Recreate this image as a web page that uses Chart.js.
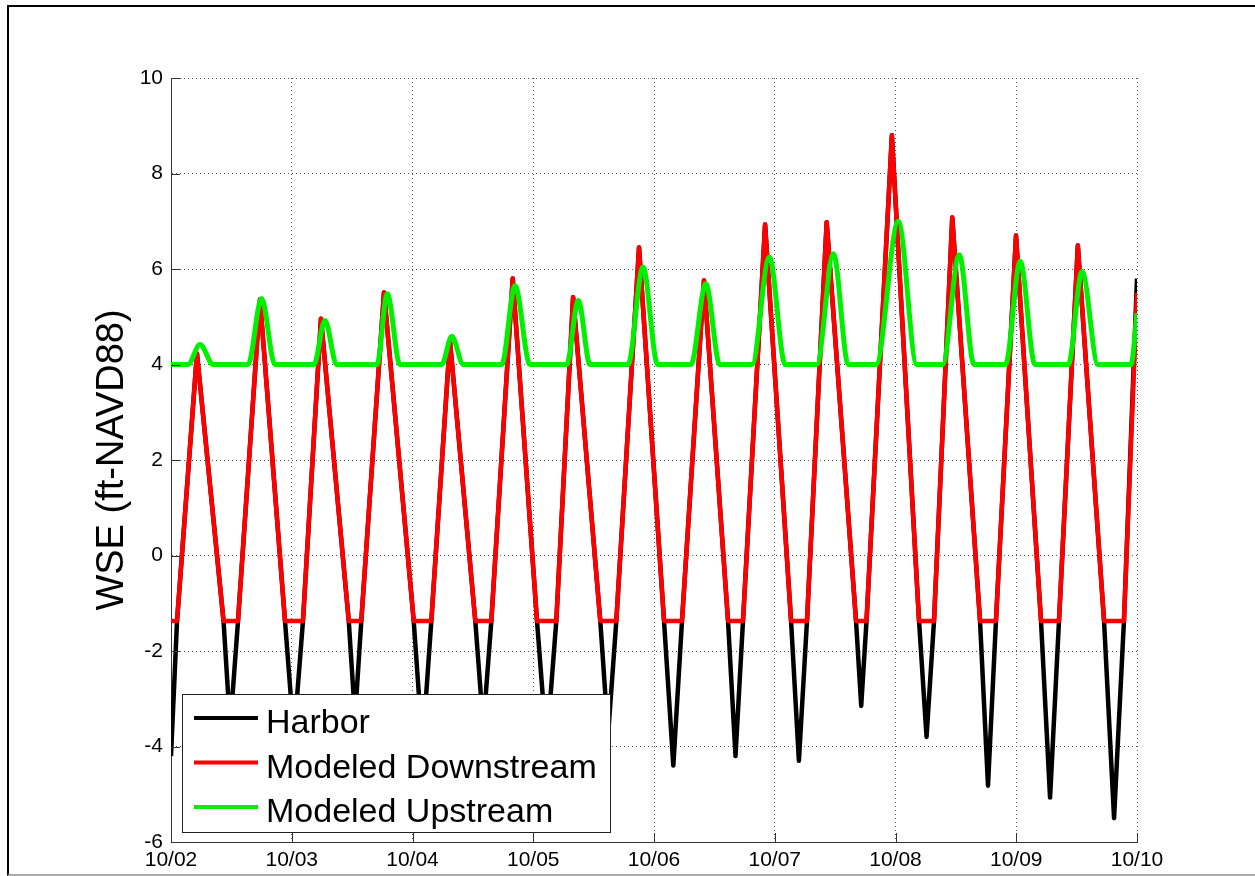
<!DOCTYPE html>
<html>
<head>
<meta charset="utf-8">
<title>WSE (ft-NAVD88)</title>
<script src="https://cdn.jsdelivr.net/npm/chart.js@4.4.1/dist/chart.umd.min.js"></script>
<style>
  html, body { margin: 0; padding: 0; background: #fff; overflow: hidden; }
  #frame {
    position: absolute; left: 7px; top: 5px; width: 1260px; height: 867px;
    border-left: 2px solid #000; border-top: 2px solid #000; border-bottom: 2px solid #aaa;
  }
  #wrap { position: absolute; left: 0; top: 0; width: 1255px; height: 876px; }
</style>
</head>
<body>
<div id="frame"></div>
<div id="wrap"><canvas id="myChart"></canvas></div>
<script>
/* x values are days after 10/02 00:00 */
var xTickLabels = ['10/02', '10/03', '10/04', '10/05', '10/06', '10/07', '10/08', '10/09', '10/10'];

var harborDay = [0, 0.05, 0.215, 0.435, 0.49, 0.555, 0.737, 0.944, 1.018, 1.093,
  1.242, 1.472, 1.524, 1.576, 1.764, 2.01, 2.083, 2.156, 2.31, 2.52,
  2.586, 2.653, 2.83, 3.031, 3.111, 3.191, 3.33, 3.555, 3.62, 3.688,
  3.876, 4.083, 4.16, 4.232, 4.414, 4.613, 4.675, 4.737, 4.92, 5.135,
  5.2, 5.267, 5.43, 5.673, 5.716, 5.76, 5.97, 6.195, 6.257, 6.319,
  6.47, 6.7, 6.766, 6.832, 6.998, 7.205, 7.28, 7.354, 7.51, 7.727,
  7.81, 7.892, 8.0];
var harborWse = [-4.2, -1.37, 4.23, -1.37, -3.6, -1.37, 5.36, -1.37, -3.8, -1.37,
  4.96, -1.37, -3.4, -1.37, 5.51, -1.37, -4.0, -1.37, 4.5, -1.37,
  -3.6, -1.37, 5.8, -1.37, -4.0, -1.37, 5.41, -1.37, -3.75, -1.37,
  6.45, -1.37, -4.4, -1.37, 5.76, -1.37, -4.2, -1.37, 6.93, -1.37,
  -4.3, -1.37, 6.98, -1.37, -3.15, -1.37, 8.8, -1.37, -3.8, -1.37,
  7.08, -1.37, -4.82, -1.37, 6.7, -1.37, -5.07, -1.37, 6.49, -1.37,
  -5.5, -1.37, 5.8];

var downDay = [0, 0.05, 0.215, 0.435, 0.555, 0.737, 0.944, 1.093, 1.242, 1.472,
  1.576, 1.764, 2.01, 2.156, 2.31, 2.52, 2.653, 2.83, 3.031, 3.191,
  3.33, 3.555, 3.688, 3.876, 4.083, 4.232, 4.414, 4.613, 4.737, 4.92,
  5.135, 5.267, 5.43, 5.673, 5.76, 5.97, 6.195, 6.319, 6.47, 6.7,
  6.832, 6.998, 7.205, 7.354, 7.51, 7.727, 7.892, 8.0];
var downWse = [-1.37, -1.37, 4.23, -1.37, -1.37, 5.36, -1.37, -1.37, 4.96, -1.37,
  -1.37, 5.51, -1.37, -1.37, 4.5, -1.37, -1.37, 5.8, -1.37, -1.37,
  5.41, -1.37, -1.37, 6.45, -1.37, -1.37, 5.76, -1.37, -1.37, 6.93,
  -1.37, -1.37, 6.98, -1.37, -1.37, 8.8, -1.37, -1.37, 7.08, -1.37,
  -1.37, 6.7, -1.37, -1.37, 6.49, -1.37, -1.37, 5.5];

var upDay = [0, 0.141, 0.24, 0.35, 0.638, 0.75, 0.861, 1.184, 1.275, 1.372,
  1.706, 1.791, 1.896, 2.242, 2.325, 2.421, 2.739, 2.849, 2.973, 3.277,
  3.373, 3.47, 3.785, 3.909, 4.03, 4.306, 4.429, 4.545, 4.812, 4.955,
  5.087, 5.348, 5.486, 5.609, 5.839, 6.023, 6.176, 6.39, 6.528, 6.65,
  6.911, 7.033, 7.155, 7.431, 7.545, 7.677, 7.95, 8.0];
var upWse = [4.0, 4.0, 4.42, 4.0, 4.0, 5.38, 4.0, 4.0, 4.92, 4.0,
  4.0, 5.48, 4.0, 4.0, 4.59, 4.0, 4.0, 5.65, 4.0, 4.0,
  5.34, 4.0, 4.0, 6.04, 4.0, 4.0, 5.69, 4.0, 4.0, 6.25,
  4.0, 4.0, 6.32, 4.0, 4.0, 7.0, 4.0, 4.0, 6.3, 4.0,
  4.0, 6.16, 4.0, 4.0, 5.95, 4.0, 4.0, 5.07];

var FONT = "'Liberation Sans', Arial, Helvetica, sans-serif";

function toPoints(xs, ys) {
  return xs.map(function (x, i) { return { x: x, y: ys[i] }; });
}

/* MATLAB style: inward ticks on left/bottom axes and a boxed legend inside the axes */
var matlabBits = {
  id: 'matlabBits',
  afterDraw: function (chart) {
    var ctx = chart.ctx;
    var area = chart.chartArea;
    var xs = chart.scales.x, ys = chart.scales.y;

    // legend
    ctx.save();
    ctx.font = '34px ' + FONT;
    var sets = chart.data.datasets.slice().sort(function (a, b) { return b.order - a.order; });
    var maxW = 0;
    sets.forEach(function (ds) { maxW = Math.max(maxW, ctx.measureText(ds.label).width); });
    var boxW = Math.round(84 + maxW + 13), boxH = 138;
    var bx = area.left + 11, by = area.bottom - 10 - boxH;
    ctx.fillStyle = '#fff';
    ctx.fillRect(bx, by, boxW, boxH);
    ctx.strokeStyle = '#222';
    ctx.lineWidth = 1;
    ctx.strokeRect(bx + 0.5, by + 0.5, boxW, boxH);
    sets.forEach(function (ds, i) {
      var ry = by + 24 + i * 44.5;
      ctx.strokeStyle = ds.borderColor;
      ctx.lineWidth = 4;
      ctx.beginPath();
      ctx.moveTo(bx + 12, ry);
      ctx.lineTo(bx + 76, ry);
      ctx.stroke();
      ctx.fillStyle = '#000';
      ctx.textBaseline = 'alphabetic';
      ctx.textAlign = 'left';
      ctx.fillText(ds.label, bx + 84, ry + 15);
    });
    ctx.restore();

    // inward tick marks
    ctx.save();
    ctx.strokeStyle = '#333';
    ctx.lineWidth = 1;
    ctx.beginPath();
    ys.ticks.forEach(function (t) {
      var py = Math.round(ys.getPixelForValue(t.value)) + 0.5;
      ctx.moveTo(area.left, py);
      ctx.lineTo(area.left + 9, py);
    });
    xs.ticks.forEach(function (t) {
      var px = Math.round(xs.getPixelForValue(t.value)) + 0.5;
      ctx.moveTo(px, area.bottom);
      ctx.lineTo(px, area.bottom - 9);
    });
    ctx.stroke();
    ctx.restore();
  }
};

var data = {
  datasets: [
    {
      label: 'Harbor',
      data: toPoints(harborDay, harborWse),
      borderColor: '#000000',
      borderWidth: 4.5,
      borderJoinStyle: 'round',
      pointRadius: 0,
      tension: 0,
      order: 3
    },
    {
      label: 'Modeled Downstream',
      data: toPoints(downDay, downWse),
      borderColor: '#ff0000',
      borderWidth: 4.5,
      borderJoinStyle: 'round',
      pointRadius: 0,
      tension: 0,
      order: 2
    },
    {
      label: 'Modeled Upstream',
      data: toPoints(upDay, upWse),
      borderColor: '#00f000',
      borderWidth: 5,
      borderJoinStyle: 'round',
      pointRadius: 0,
      cubicInterpolationMode: 'monotone',
      order: 1
    }
  ]
};

const config = {
  type: 'line',
  data: data,
  plugins: [matlabBits],
  options: {
    responsive: true,
    maintainAspectRatio: false,
    animation: false,
    layout: {
      padding: { top: 78, right: 118, bottom: 0, left: 0 }
    },
    scales: {
      x: {
        type: 'linear',
        min: 0,
        max: 8,
        afterFit: function (s) { s.height = 34; },
        ticks: {
          stepSize: 1,
          autoSkip: false,
          maxRotation: 0,
          padding: 6,
          color: '#000',
          font: { family: FONT, size: 21 },
          callback: function (v) { return xTickLabels[v]; }
        },
        grid: { color: '#555', lineWidth: 1, drawTicks: false },
        border: { display: true, color: '#333', width: 1, dash: [1, 3] }
      },
      y: {
        min: -6,
        max: 10,
        afterFit: function (s) { s.width = 171; },
        ticks: {
          stepSize: 2,
          padding: 8,
          color: '#000',
          font: { family: FONT, size: 21 },
          callback: function (v) { return String(v); }
        },
        title: {
          display: true,
          text: 'WSE (ft-NAVD88)',
          color: '#000',
          font: { family: FONT, size: 38 },
          padding: { top: 90, bottom: 0 }
        },
        grid: { color: '#555', lineWidth: 1, drawTicks: false },
        border: { display: true, color: '#333', width: 1, dash: [1, 3] }
      }
    },
    plugins: {
      legend: { display: false },
      tooltip: { enabled: false }
    }
  }
};

var myChart = new Chart(document.getElementById('myChart'), config);
</script>
</body>
</html>
